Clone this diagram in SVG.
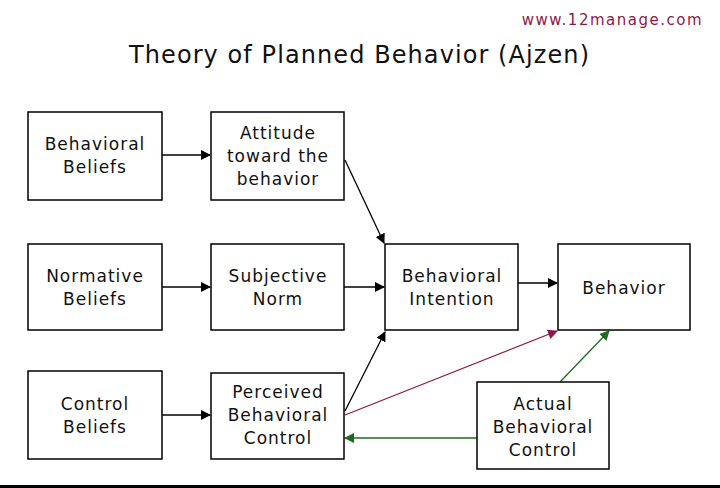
<svg xmlns="http://www.w3.org/2000/svg" width="720" height="488" viewBox="0 0 720 488">
<defs>
<style>
.box{fill:#fff;stroke:#000;stroke-width:1.5}
.t{font-family:"DejaVu Sans","Liberation Sans",sans-serif;font-size:17px;fill:#111;text-anchor:middle;letter-spacing:1px}
.c{fill:none;stroke-width:1.3}
</style>
<marker id="ab" viewBox="0 0 10 10" refX="9" refY="5" markerWidth="10" markerHeight="10" markerUnits="userSpaceOnUse" orient="auto"><path d="M0,0L10,5L0,10z" fill="#000"/></marker>
<marker id="am" viewBox="0 0 10 10" refX="9" refY="5" markerWidth="10" markerHeight="10" markerUnits="userSpaceOnUse" orient="auto"><path d="M0,0L10,5L0,10z" fill="#8b1a4a"/></marker>
<marker id="ag" viewBox="0 0 10 10" refX="9" refY="5" markerWidth="10" markerHeight="10" markerUnits="userSpaceOnUse" orient="auto"><path d="M0,0L10,5L0,10z" fill="#1e6b1e"/></marker>
</defs>
<rect width="720" height="488" fill="#fff"/>
<text x="703" y="25" text-anchor="end" font-family="DejaVu Sans,sans-serif" font-size="15" fill="#8b1a4a" letter-spacing="1.5">www.12manage.com</text>
<text x="359" y="63" text-anchor="middle" font-family="DejaVu Sans,sans-serif" font-size="24" fill="#111" textLength="460">Theory of Planned Behavior (Ajzen)</text>
<rect x="0" y="485" width="720" height="3" fill="#000"/>
<g id="connectors">
<line class="c" stroke="#000" x1="162" y1="155" x2="210" y2="155" marker-end="url(#ab)"/>
<line class="c" stroke="#000" x1="345" y1="160" x2="384" y2="243" marker-end="url(#ab)"/>
<line class="c" stroke="#000" x1="162" y1="287" x2="210" y2="287" marker-end="url(#ab)"/>
<line class="c" stroke="#000" x1="344" y1="287" x2="384" y2="287" marker-end="url(#ab)"/>
<line class="c" stroke="#000" x1="518" y1="283" x2="557" y2="283" marker-end="url(#ab)"/>
<line class="c" stroke="#000" x1="162" y1="415" x2="210" y2="415" marker-end="url(#ab)"/>
<line class="c" stroke="#000" x1="345" y1="411" x2="385" y2="332" marker-end="url(#ab)"/>
<line class="c" stroke="#8b1a4a" x1="345" y1="415" x2="557" y2="331" marker-end="url(#am)"/>
<line class="c" stroke="#1e6b1e" x1="560" y1="382" x2="609" y2="331" marker-end="url(#ag)"/>
<line class="c" stroke="#1e6b1e" x1="477" y1="438" x2="345" y2="438" marker-end="url(#ag)"/>
</g>
<g id="behavioral-beliefs"><rect class="box" x="28" y="112" width="134" height="88"/><text class="t" x="95" y="150">Behavioral</text><text class="t" x="95" y="173">Beliefs</text></g>
<g id="attitude"><rect class="box" x="211" y="112" width="133" height="88"/><text class="t" x="278" y="139">Attitude</text><text class="t" x="278" y="162">toward the</text><text class="t" x="278" y="185">behavior</text></g>
<g id="normative-beliefs"><rect class="box" x="28" y="244" width="134" height="86"/><text class="t" x="95" y="282">Normative</text><text class="t" x="95" y="305">Beliefs</text></g>
<g id="subjective-norm"><rect class="box" x="211" y="244" width="133" height="86"/><text class="t" x="278" y="282">Subjective</text><text class="t" x="278" y="305">Norm</text></g>
<g id="behavioral-intention"><rect class="box" x="385" y="244" width="133" height="86"/><text class="t" x="452" y="282">Behavioral</text><text class="t" x="452" y="305">Intention</text></g>
<g id="behavior"><rect class="box" x="558" y="244" width="132" height="86"/><text class="t" x="624" y="294">Behavior</text></g>
<g id="control-beliefs"><rect class="box" x="28" y="371" width="134" height="88"/><text class="t" x="95" y="410">Control</text><text class="t" x="95" y="433">Beliefs</text></g>
<g id="perceived-behavioral-control"><rect class="box" x="211" y="373" width="133" height="86"/><text class="t" x="278" y="398">Perceived</text><text class="t" x="278" y="421">Behavioral</text><text class="t" x="278" y="444">Control</text></g>
<g id="actual-behavioral-control"><rect class="box" x="477" y="382" width="132" height="87"/><text class="t" x="543" y="410">Actual</text><text class="t" x="543" y="433">Behavioral</text><text class="t" x="543" y="456">Control</text></g>
</svg>
